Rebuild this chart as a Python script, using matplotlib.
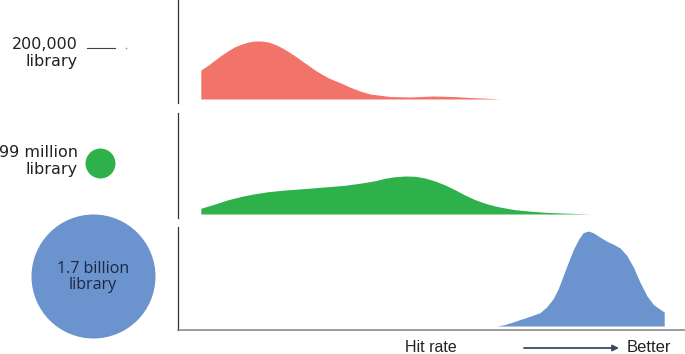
import numpy as np
import matplotlib.pyplot as plt

# hit rate (0-100 across the panel) and density heights
red_x = [4.5, 6.0, 7.3, 8.6, 9.9, 11.2, 12.6, 13.9, 15.2, 16.5, 17.8, 19.1, 20.5,
         21.8, 23.1, 24.4, 25.7, 27.0, 28.3, 29.6, 31.0, 32.3, 33.6, 35.9, 37.9,
         41.8, 45.8, 50.3, 54.2, 57.6, 61.0, 63.5]
red_y = [29.0, 34.0, 39.0, 44.0, 48.3, 52.3, 55.0, 57.0, 58.0, 58.0, 57.0, 54.7,
         51.3, 47.3, 43.0, 38.3, 33.7, 29.0, 25.0, 21.3, 18.3, 15.7, 12.5, 8.0,
         5.0, 2.5, 2.0, 3.0, 2.5, 1.5, 0.7, 0.0]

green_x = [4.5, 7.3, 9.9, 12.6, 15.2, 17.8, 20.5, 23.1, 26.4, 29.6, 32.9, 36.2,
           38.9, 40.8, 42.8, 44.8, 46.8, 48.7, 50.7, 52.7, 54.6, 56.6, 58.6, 60.6,
           62.5, 64.5, 66.5, 69.1, 72.4, 75.7, 79.6, 81.3]
green_y = [5.7, 10.0, 14.3, 17.7, 20.3, 22.3, 23.7, 24.7, 26.0, 27.3, 28.7, 31.0,
           33.3, 35.7, 37.3, 38.0, 37.7, 36.0, 33.0, 29.0, 24.3, 19.0, 14.3, 10.7,
           8.0, 6.0, 4.3, 3.0, 1.7, 1.0, 0.3, 0.0]

blue_x = [62.9, 64.5, 66.1, 67.8, 69.4, 71.4, 72.7, 74.0, 75.0, 76.0, 77.0, 78.0,
          79.0, 79.9, 80.9, 81.9, 83.2, 84.6, 85.9, 87.2, 88.5, 89.8, 91.1, 92.5,
          93.8, 95.1, 95.9]
blue_y = [0.0, 1.5, 4.0, 7.0, 9.7, 13.3, 19.0, 27.3, 37.3, 50.7, 64.0, 76.7, 86.7,
          93.3, 95.0, 93.3, 89.0, 84.7, 81.7, 78.0, 70.7, 59.0, 44.0, 30.0, 21.3,
          16.7, 14.0]

lib_labels = ['200,000\nlibrary', '99 million\nlibrary', '1.7 billion\nlibrary']
lib_sizes = [200_000, 99_000_000, 1_700_000_000]

colors = ['#F17369', '#2EB04B', '#6B93CE']
W, H = 685, 354

fig = plt.figure(figsize=(W / 100, H / 100), dpi=100)

# panel spans in pixels from the top (top, bottom)
spans = [(0, 103), (113, 218), (227, 330)]
left_px = 178
series = [(red_x, red_y), (green_x, green_y), (blue_x, blue_y)]

for i, ((top, bot), (xs, ys)) in enumerate(zip(spans, series)):
    ax = fig.add_axes([left_px / W, 1 - bot / H, (W - left_px) / W, (bot - top) / H])
    ax.fill_between(xs, 0, ys, color=colors[i], lw=0)
    ax.set_xlim(0, 100)
    ax.set_ylim(-4, bot - top - 4)
    ax.set_xticks([])
    ax.set_yticks([])
    for s in ['top', 'right']:
        ax.spines[s].set_visible(False)
    ax.spines['left'].set_color('#333333')
    ax.spines['left'].set_linewidth(0.9)
    if i == 2:
        ax.spines['bottom'].set_color('#8a8a8a')
        ax.spines['bottom'].set_linewidth(1.2)
    else:
        ax.spines['bottom'].set_visible(False)
    ax.patch.set_alpha(0)

# overlay in pixel coordinates for circles and labels
ov = fig.add_axes([0, 0, 1, 1])
ov.set_xlim(0, W)
ov.set_ylim(H, 0)
ov.axis('off')
ov.patch.set_alpha(0)

centers = [(126, 48), (100, 163), (93, 276)]
blue_r_pt = 62 * 0.72
k = (2 * blue_r_pt) ** 2 / lib_sizes[2]
for (cx, cy), size, c in zip(centers, lib_sizes, colors):
    ov.scatter([cx], [cy], s=max(size * k, 1.5), color=c, lw=0, zorder=3)

ov.plot([87, 115], [48, 48], color='#444444', lw=0.8)

lab_font = ['DejaVu Sans']
ov.text(78, 53, lib_labels[0], ha='right', va='center', fontsize=11.5,
        family=lab_font, color='#222222', linespacing=1.2)
ov.text(78, 161, lib_labels[1], ha='right', va='center', fontsize=11.5,
        family=lab_font, color='#222222', linespacing=1.2)
ov.text(93, 277, lib_labels[2], ha='center', va='center', fontsize=11.5,
        family=['Open Sans', 'DejaVu Sans'], color='#1c2740', linespacing=1.05)

ov.text(431, 348, 'Hit rate', ha='center', va='center', fontsize=11.5,
        family=['Liberation Sans'], color='#222222')
ov.annotate('', xy=(619, 348), xytext=(524, 348),
            arrowprops=dict(arrowstyle='-|>', color='#3a4a5e', lw=1.3,
                            mutation_scale=9, shrinkA=0, shrinkB=0))
ov.text(627, 348, 'Better', ha='left', va='center', fontsize=12,
        family=['Liberation Sans'], color='#222222')

fig.savefig('out.png', dpi=100)
